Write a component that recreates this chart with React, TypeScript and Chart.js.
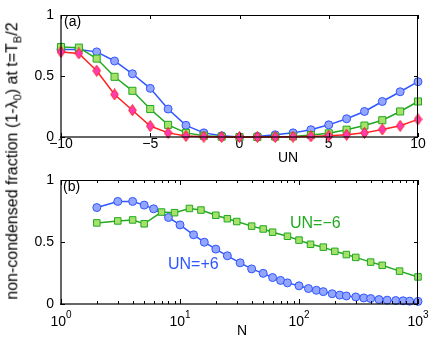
import React, { useEffect, useRef } from 'react';
import { Chart, registerables } from 'chart.js';

Chart.register(...registerables);

// ---------- data ----------
const UN = [-10, -9, -8, -7, -6, -5, -4, -3, -2, -1, 0, 1, 2, 3, 4, 5, 6, 7, 8, 9, 10];
const BLUE_A = [0.72, 0.72, 0.70, 0.625, 0.52, 0.40, 0.23, 0.096, 0.034, 0.01, 0, 0.005, 0.018, 0.034, 0.06, 0.10, 0.15, 0.21, 0.292, 0.372, 0.455];
const GREEN_A = [0.74, 0.735, 0.645, 0.495, 0.38, 0.23, 0.10, 0.034, 0.01, 0.003, 0, 0, 0.003, 0.005, 0.016, 0.03, 0.06, 0.094, 0.138, 0.21, 0.292];
const RED_A = [0.70, 0.687, 0.545, 0.35, 0.22, 0.09, 0.034, 0.008, 0.003, 0, 0, 0, 0, 0.003, 0.005, 0.01, 0.018, 0.034, 0.062, 0.092, 0.145];

const N_BLUE = [2, 3, 4, 5, 6, 8, 10, 13, 16, 20, 25, 32, 40, 50, 60, 70, 80, 100, 120, 140, 160, 190, 220, 250, 300, 350, 400, 470, 550, 650, 750, 850, 1000];
const BLUE_B = [0.78, 0.83, 0.83, 0.80, 0.77, 0.70, 0.64, 0.56, 0.50, 0.444, 0.39, 0.333, 0.284, 0.248, 0.214, 0.191, 0.171, 0.147, 0.125, 0.111, 0.10, 0.083, 0.072, 0.065, 0.057, 0.049, 0.044, 0.036, 0.031, 0.028, 0.026, 0.023, 0.021];

const N_GREEN = [2, 3, 4, 5, 7, 9, 12, 15, 20, 25, 30, 40, 50, 60, 80, 100, 125, 160, 200, 250, 300, 400, 500, 700, 1000];
const GREEN_B = [0.656, 0.672, 0.68, 0.649, 0.744, 0.739, 0.773, 0.76, 0.718, 0.69, 0.667, 0.63, 0.607, 0.581, 0.548, 0.517, 0.483, 0.46, 0.426, 0.40, 0.377, 0.339, 0.313, 0.266, 0.219];

const LOG_DECADES = [0, 1, 2, 3];
const LOG_MINOR = [1, 2, 3, 4, 5, 6, 7, 8, 9, 10, 20, 30, 40, 50, 60, 70, 80, 90, 100, 200, 300, 400, 500, 600, 700, 800, 900, 1000];

const FONT = "'Liberation Sans', Arial, Helvetica, sans-serif";
const BLUE = '#2f55ff';
const BLUE_FILL = '#93a5ff';
const GREEN = '#22a822';
const GREEN_FILL = '#a6e26a';
const RED = '#ff2020';
const RED_FILL = '#ff3cb4';

function makeDiamond(): HTMLCanvasElement {
  const c = document.createElement('canvas');
  c.width = 9;
  c.height = 12;
  const g = c.getContext('2d')!;
  g.beginPath();
  g.moveTo(4.5, 0.5);
  g.lineTo(8.3, 6);
  g.lineTo(4.5, 11.5);
  g.lineTo(0.7, 6);
  g.closePath();
  g.fillStyle = RED_FILL;
  g.fill();
  g.strokeStyle = RED;
  g.lineWidth = 1;
  g.stroke();
  return c;
}

function series(label: string, xs: number[], ys: number[], color: string, fill: string, style: any, radius: number, order: number) {
  return {
    label,
    data: xs.map((x, i) => ({ x, y: ys[i] })),
    borderColor: color,
    backgroundColor: fill,
    pointBackgroundColor: fill,
    pointBorderColor: color,
    pointBorderWidth: 1,
    pointRadius: radius,
    pointStyle: style,
    borderWidth: 1.5,
    tension: 0,
    fill: false,
    clip: false as any,
    order,
  };
}

function isPow10(v: number) {
  const l = Math.log10(v);
  return Math.abs(l - Math.round(l)) < 1e-9;
}

const decorPlugin = {
  id: 'decor',
  afterDraw(chart: any) {
    const { ctx, chartArea, scales } = chart;
    const xs = scales.x;
    const ys = scales.y;
    const L = Math.round(chartArea.left);
    const R = Math.round(chartArea.right);
    const T = Math.round(chartArea.top);
    const B = Math.round(chartArea.bottom);
    const isLog = xs.type === 'logarithmic';
    ctx.save();
    // frame: left/bottom slightly soft, top/right crisp
    ctx.fillStyle = 'rgba(0,0,0,0.6)';
    ctx.fillRect(L - 1, T, 2, B - T + 1);
    ctx.fillRect(L - 1, B - 1, R - L + 1, 2);
    ctx.fillStyle = '#000';
    ctx.fillRect(L, T, R - L, 1);
    ctx.fillRect(R - 1, T, 1, B - T);
    // inward ticks
    const xv: number[] = isLog ? LOG_MINOR : (xs.ticks || []).map((t: any) => t.value);
    xv.forEach((v) => {
      const px = Math.round(xs.getPixelForValue(v));
      const len = isLog ? (isPow10(v) ? 5 : 3) : 4;
      ctx.fillRect(px, B - len, 1, len);
      ctx.fillRect(px, T, 1, len);
    });
    (ys.ticks || []).forEach((t: any) => {
      const py = Math.round(ys.getPixelForValue(t.value));
      ctx.fillRect(L, py, 4, 1);
      ctx.fillRect(R - 4, py, 4, 1);
    });
    // log labels with exponents
    if (isLog) {
      ctx.textAlign = 'left';
      ctx.textBaseline = 'alphabetic';
      LOG_DECADES.forEach((k) => {
        const px = xs.getPixelForValue(Math.pow(10, k));
        ctx.font = `14px ${FONT}`;
        const w1 = ctx.measureText('10').width;
        ctx.font = `10px ${FONT}`;
        const w2 = ctx.measureText(String(k)).width;
        const start = px - (w1 + w2) / 2;
        ctx.font = `14px ${FONT}`;
        ctx.fillText('10', start, B + 22);
        ctx.font = `10px ${FONT}`;
        ctx.fillText(String(k), start + w1, B + 14);
      });
    }
    ctx.restore();
  },
};

const tickFont = { family: FONT, size: 14 };
const numLabel = (v: any) => String(Number(v)).replace('-', '\u2212');

export default function App() {
  const refA = useRef<HTMLCanvasElement>(null);
  const refB = useRef<HTMLCanvasElement>(null);

  useEffect(() => {
    const diamond = makeDiamond();
    const chartA = new Chart(refA.current!, {
      type: 'line',
      data: {
        datasets: [
          series('blue', UN, BLUE_A, BLUE, BLUE_FILL, 'circle', 4, 2),
          series('green', UN, GREEN_A, GREEN, GREEN_FILL, 'rect', 5, 1),
          series('red', UN, RED_A, RED, RED_FILL, diamond, 5, 0),
        ] as any,
      },
      options: {
        animation: false,
        responsive: false,
        maintainAspectRatio: false,
        layout: { padding: { top: 9, right: 18, left: 0, bottom: 0 } },
        plugins: { legend: { display: false }, tooltip: { enabled: false } },
        scales: {
          x: {
            type: 'linear',
            min: -10,
            max: 10,
            grid: { display: false, drawTicks: false },
            border: { display: false },
            ticks: {
              stepSize: 5,
              font: tickFont,
              color: '#000',
              padding: -1,
              maxRotation: 0,
              callback: numLabel,
            },
            afterFit: (s: any) => { s.height = 28; },
          },
          y: {
            min: 0,
            max: 1,
            grid: { display: false, drawTicks: false },
            border: { display: false },
            ticks: { stepSize: 0.5, font: tickFont, color: '#000', padding: 7, callback: numLabel },
            afterFit: (s: any) => { s.width = 61; },
          },
        },
      } as any,
      plugins: [decorPlugin],
    });

    const chartB = new Chart(refB.current!, {
      type: 'line',
      data: {
        datasets: [
          series('UN=+6', N_BLUE, BLUE_B, BLUE, BLUE_FILL, 'circle', 4, 1),
          series('UN=-6', N_GREEN, GREEN_B, GREEN, GREEN_FILL, 'rect', 4.6, 0),
        ] as any,
      },
      options: {
        animation: false,
        responsive: false,
        maintainAspectRatio: false,
        layout: { padding: { top: 10, right: 18, left: 0, bottom: 0 } },
        plugins: { legend: { display: false }, tooltip: { enabled: false } },
        scales: {
          x: {
            type: 'logarithmic',
            min: 1,
            max: 1000,
            grid: { display: false, drawTicks: false },
            border: { display: false },
            ticks: { display: false },
            afterFit: (s: any) => { s.height = 35; },
          },
          y: {
            min: 0,
            max: 1,
            grid: { display: false, drawTicks: false },
            border: { display: false },
            ticks: { stepSize: 0.5, font: tickFont, color: '#000', padding: 7, callback: numLabel },
            afterFit: (s: any) => { s.width = 61; },
          },
        },
      } as any,
      plugins: [decorPlugin],
    });

    return () => {
      chartA.destroy();
      chartB.destroy();
    };
  }, []);

  const txt = (left: number, top: number, size: number, color: string, content: React.ReactNode) => (
    <div style={{ position: 'absolute', left, top, fontSize: size, lineHeight: 1, color, whiteSpace: 'nowrap', fontFamily: FONT }}>
      {content}
    </div>
  );

  return (
    <div style={{ position: 'absolute', left: 0, top: 0, width: 436, height: 339, background: '#fff', overflow: 'hidden' }}>
      <canvas ref={refA} width={436} height={165} style={{ position: 'absolute', left: 0, top: 0, width: 436, height: 165 }} />
      <canvas ref={refB} width={436} height={174} style={{ position: 'absolute', left: 0, top: 165, width: 436, height: 174 }} />
      {txt(64, 14, 14, '#000', '(a)')}
      {txt(63, 179, 14, '#000', '(b)')}
      {txt(278, 150, 14, '#000', 'UN')}
      {txt(237, 323, 14, '#000', 'N')}
      {txt(168, 256, 16, BLUE, 'UN=+6')}
      {txt(290, 215, 16, GREEN, 'UN=\u22126')}
      <div
        style={{
          position: 'absolute',
          left: 14,
          top: 161,
          transform: 'translate(-50%, -50%) rotate(-90deg)',
          fontSize: 16,
          lineHeight: 1,
          whiteSpace: 'nowrap',
          fontFamily: FONT,
          color: '#000',
        }}
      >
        non-condensed fraction (1-λ<sub style={{ fontSize: '0.7em' }}>0</sub>) at t=T<sub style={{ fontSize: '0.7em' }}>B</sub>/2
      </div>
    </div>
  );
}
